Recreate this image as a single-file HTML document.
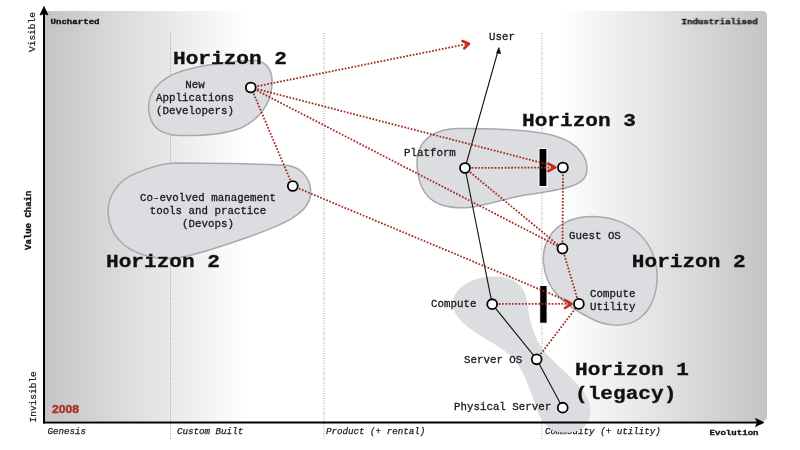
<!DOCTYPE html>
<html><head><meta charset="utf-8">
<style>
html,body{margin:0;padding:0;background:#fff;width:800px;height:450px;overflow:hidden}
svg{display:block;will-change:transform}
.m{font-family:"Liberation Mono",monospace}
.s{font-family:"Liberation Sans",sans-serif}
</style></head><body>
<svg width="800" height="450" viewBox="0 0 800 450">
<defs>
<linearGradient id="gl" x1="45" y1="0" x2="245" y2="0" gradientUnits="userSpaceOnUse">
<stop offset="0" stop-color="#c4c4c4"/><stop offset="1" stop-color="#ffffff"/>
</linearGradient>
<linearGradient id="gr" x1="560" y1="0" x2="767" y2="0" gradientUnits="userSpaceOnUse">
<stop offset="0" stop-color="#ffffff"/><stop offset="1" stop-color="#c4c4c4"/>
</linearGradient>
</defs>

<!-- background -->
<rect x="45" y="11" width="200" height="410" fill="url(#gl)"/>
<path d="M560,11 H762 Q767,11 767,16 V416 Q767,421 762,421 H560 Z" fill="url(#gr)"/>

<!-- dotted verticals -->
<g stroke="#a0a0a0" stroke-width="1" stroke-dasharray="1 1.5">
<line x1="170.5" y1="33" x2="170.5" y2="440"/>
<line x1="324" y1="33" x2="324" y2="440"/>
<line x1="542" y1="33" x2="542" y2="440"/>
</g>

<!-- axis labels -->
<g class="m" font-size="9" font-weight="bold" fill="#111" stroke="#111" stroke-width="0.35">
<text transform="translate(50.5,24.2) scale(1.01,0.86)">Uncharted</text>
<text transform="translate(681.5,24.2) scale(1.01,0.86)">Industrialised</text>
<text transform="translate(709.5,435.3) scale(1.01,0.86)">Evolution</text>
<text transform="translate(31,250) rotate(-90)">Value Chain</text>
</g>
<g class="m" font-size="9.5" fill="#222" stroke="#222" stroke-width="0.25">
<text transform="translate(35,52) rotate(-90)">Visible</text>
<text transform="translate(35.5,422.5) rotate(-90)">Invisible</text>
</g>
<g class="m" font-size="9.2" font-style="italic" fill="#222" stroke="#222" stroke-width="0.25">
<text x="47.5" y="434">Genesis</text>
<text x="177" y="434">Custom Built</text>
<text x="326" y="434">Product (+ rental)</text>
<text x="545" y="434">Commodity (+ utility)</text>
</g>
<text class="s" transform="translate(52,413) scale(1.1,1)" font-size="11" font-weight="bold" fill="#ad352b" stroke="#ad352b" stroke-width="0.5">2008</text>

<!-- blobs -->
<g fill="#dcdde0" stroke="#a9a9a9" stroke-width="1.5">
<path d="M148.6,108 C148,92 160,78 182,71 C205,64 240,60 256,60.5 C268,62 273,72 272,85 C271,105 258,120 241,128 C225,134 200,136 180,135.5 C158,135 149,124 148.6,108 Z"/>
<path d="M108,212 C108,196 118,180 136,173.4 C148,168 160,163.5 175,163 C210,163 260,164 288,165.5 C305,168 313,184 310,198 C306,214 285,224 250,236.5 C225,245 200,254 180,257.5 C140,262 110,245 108,212 Z"/>
<path d="M417,165 C416,140 435,128 460,128.5 C490,129 530,129 555,136 C580,143 590,160 586,175 C582,188 555,190 520,196 C490,202 470,212 445,206 C425,201 418,185 417,165 Z"/>
<path d="M543.5,262 C542,240 555,222 580,217.5 C610,213 640,225 652,252 C662,275 657,305 640,318 C625,329 605,326 590,318 C565,305 545,290 543.5,262 Z"/>
</g>
<path d="M493,276.5 C512,276 524,284 527,300 C529,318 532,335 545,352 C558,368 585,385 590,405 C593,426 580,433.5 562,432.5 C550,432 541,422 537,410 C530,390 525,372 513,358 C495,340 455,328 453,305 C452,288 472,277 493,276.5 Z" fill="#dcdde0"/>

<!-- axes -->
<g stroke="#000" stroke-width="2" fill="none">
<line x1="44" y1="12" x2="44" y2="423.5"/>
<line x1="43" y1="422.5" x2="758" y2="422.5"/>
</g>
<path d="M40,15 L44,6.5 L48,15 L44,13.5 Z" fill="#000" stroke="#000" stroke-width="0.8" stroke-linejoin="round"/>
<path d="M755.5,418.5 L764,422.5 L755.5,426.5 L757.5,422.5 Z" fill="#000" stroke="#000" stroke-width="0.8" stroke-linejoin="round"/>

<!-- black value chain line -->
<g stroke="#111" stroke-width="1.1" fill="none">
<polyline points="498,51 465,168 492.2,304.2 536.7,359.3 562.7,407.7"/>
</g>
<path d="M496.6,53 L498.9,47.6 L500.6,53.6 Z" fill="#111" stroke="#111" stroke-width="0.8" stroke-linejoin="round"/>

<!-- black bars -->
<rect x="539" y="148.5" width="7.9" height="38" fill="#000" stroke="#fff" stroke-width="1"/>
<rect x="539.7" y="285.5" width="7.4" height="37.7" fill="#000" stroke="#fff" stroke-width="1"/>

<!-- red dotted lines -->
<g stroke="#a3281e" stroke-width="1.8" stroke-dasharray="1.7 1.6" fill="none">
<line x1="251" y1="87.5" x2="467" y2="44"/>
<line x1="251" y1="87.5" x2="554" y2="166"/>
<line x1="251" y1="87.5" x2="562.5" y2="248.6"/>
<line x1="251" y1="87.5" x2="292.8" y2="186"/>
<line x1="292.8" y1="186" x2="570" y2="302"/>
<line x1="465" y1="168" x2="554" y2="167.5"/>
<line x1="465" y1="168" x2="562.5" y2="248.6"/>
<line x1="563" y1="168" x2="562.5" y2="248.6"/>
<line x1="562.5" y1="248.6" x2="578.9" y2="303.9"/>
<line x1="492.2" y1="304" x2="570" y2="303.8"/>
<line x1="536.7" y1="359.3" x2="578.9" y2="303.9"/>
</g>
<g fill="none" stroke="#c9281a" stroke-width="2.6" stroke-linecap="round" stroke-linejoin="round">
<path d="M462.5,41 L469,43.8 L464.3,48.3"/>
<path d="M548.3,163.6 L555.2,167.4 L548.3,171.2"/>
<path d="M565,300 L571.5,303.8 L565,308"/>
</g>

<!-- nodes -->
<g fill="#fff" stroke="#000" stroke-width="1.8">
<circle cx="250.8" cy="87.5" r="4.95"/>
<circle cx="292.8" cy="186" r="4.95"/>
<circle cx="465" cy="168" r="4.95"/>
<circle cx="562.9" cy="167.5" r="4.95"/>
<circle cx="562.5" cy="248.6" r="4.95"/>
<circle cx="578.9" cy="303.9" r="4.95"/>
<circle cx="492.2" cy="304.2" r="4.95"/>
<circle cx="536.7" cy="359.3" r="4.95"/>
<circle cx="562.7" cy="407.7" r="4.95"/>
</g>

<!-- horizon labels -->
<g class="m" font-size="20.5" font-weight="bold" fill="#111" stroke="#111" stroke-width="0.35">
<text transform="translate(173,63.8) scale(1.03,0.87)">Horizon 2</text>
<text transform="translate(106,267.2) scale(1.03,0.87)">Horizon 2</text>
<text transform="translate(522,126.2) scale(1.03,0.87)">Horizon 3</text>
<text transform="translate(631.8,267.2) scale(1.03,0.87)">Horizon 2</text>
<text transform="translate(575,375.3) scale(1.03,0.87)">Horizon 1</text>
<text transform="translate(575,399.2) scale(1.03,0.87)">(legacy)</text>
</g>

<!-- component labels -->
<g class="m" font-size="10.8" fill="#1a1a1a" stroke="#1a1a1a" stroke-width="0.3">
<text x="195" y="88" text-anchor="middle">New</text>
<text x="195" y="101" text-anchor="middle">Applications</text>
<text x="195" y="114" text-anchor="middle">(Developers)</text>
<text x="208" y="201" text-anchor="middle">Co-evolved management</text>
<text x="208" y="214" text-anchor="middle">tools and practice</text>
<text x="208" y="227" text-anchor="middle">(Devops)</text>
<text x="489" y="40">User</text>
<text x="404" y="156">Platform</text>
<text x="569" y="239">Guest OS</text>
<text x="590" y="297">Compute</text>
<text x="590" y="310">Utility</text>
<text x="431" y="307">Compute</text>
<text x="464" y="363">Server OS</text>
<text x="454" y="410">Physical Server</text>
</g>
</svg>
</body></html>
